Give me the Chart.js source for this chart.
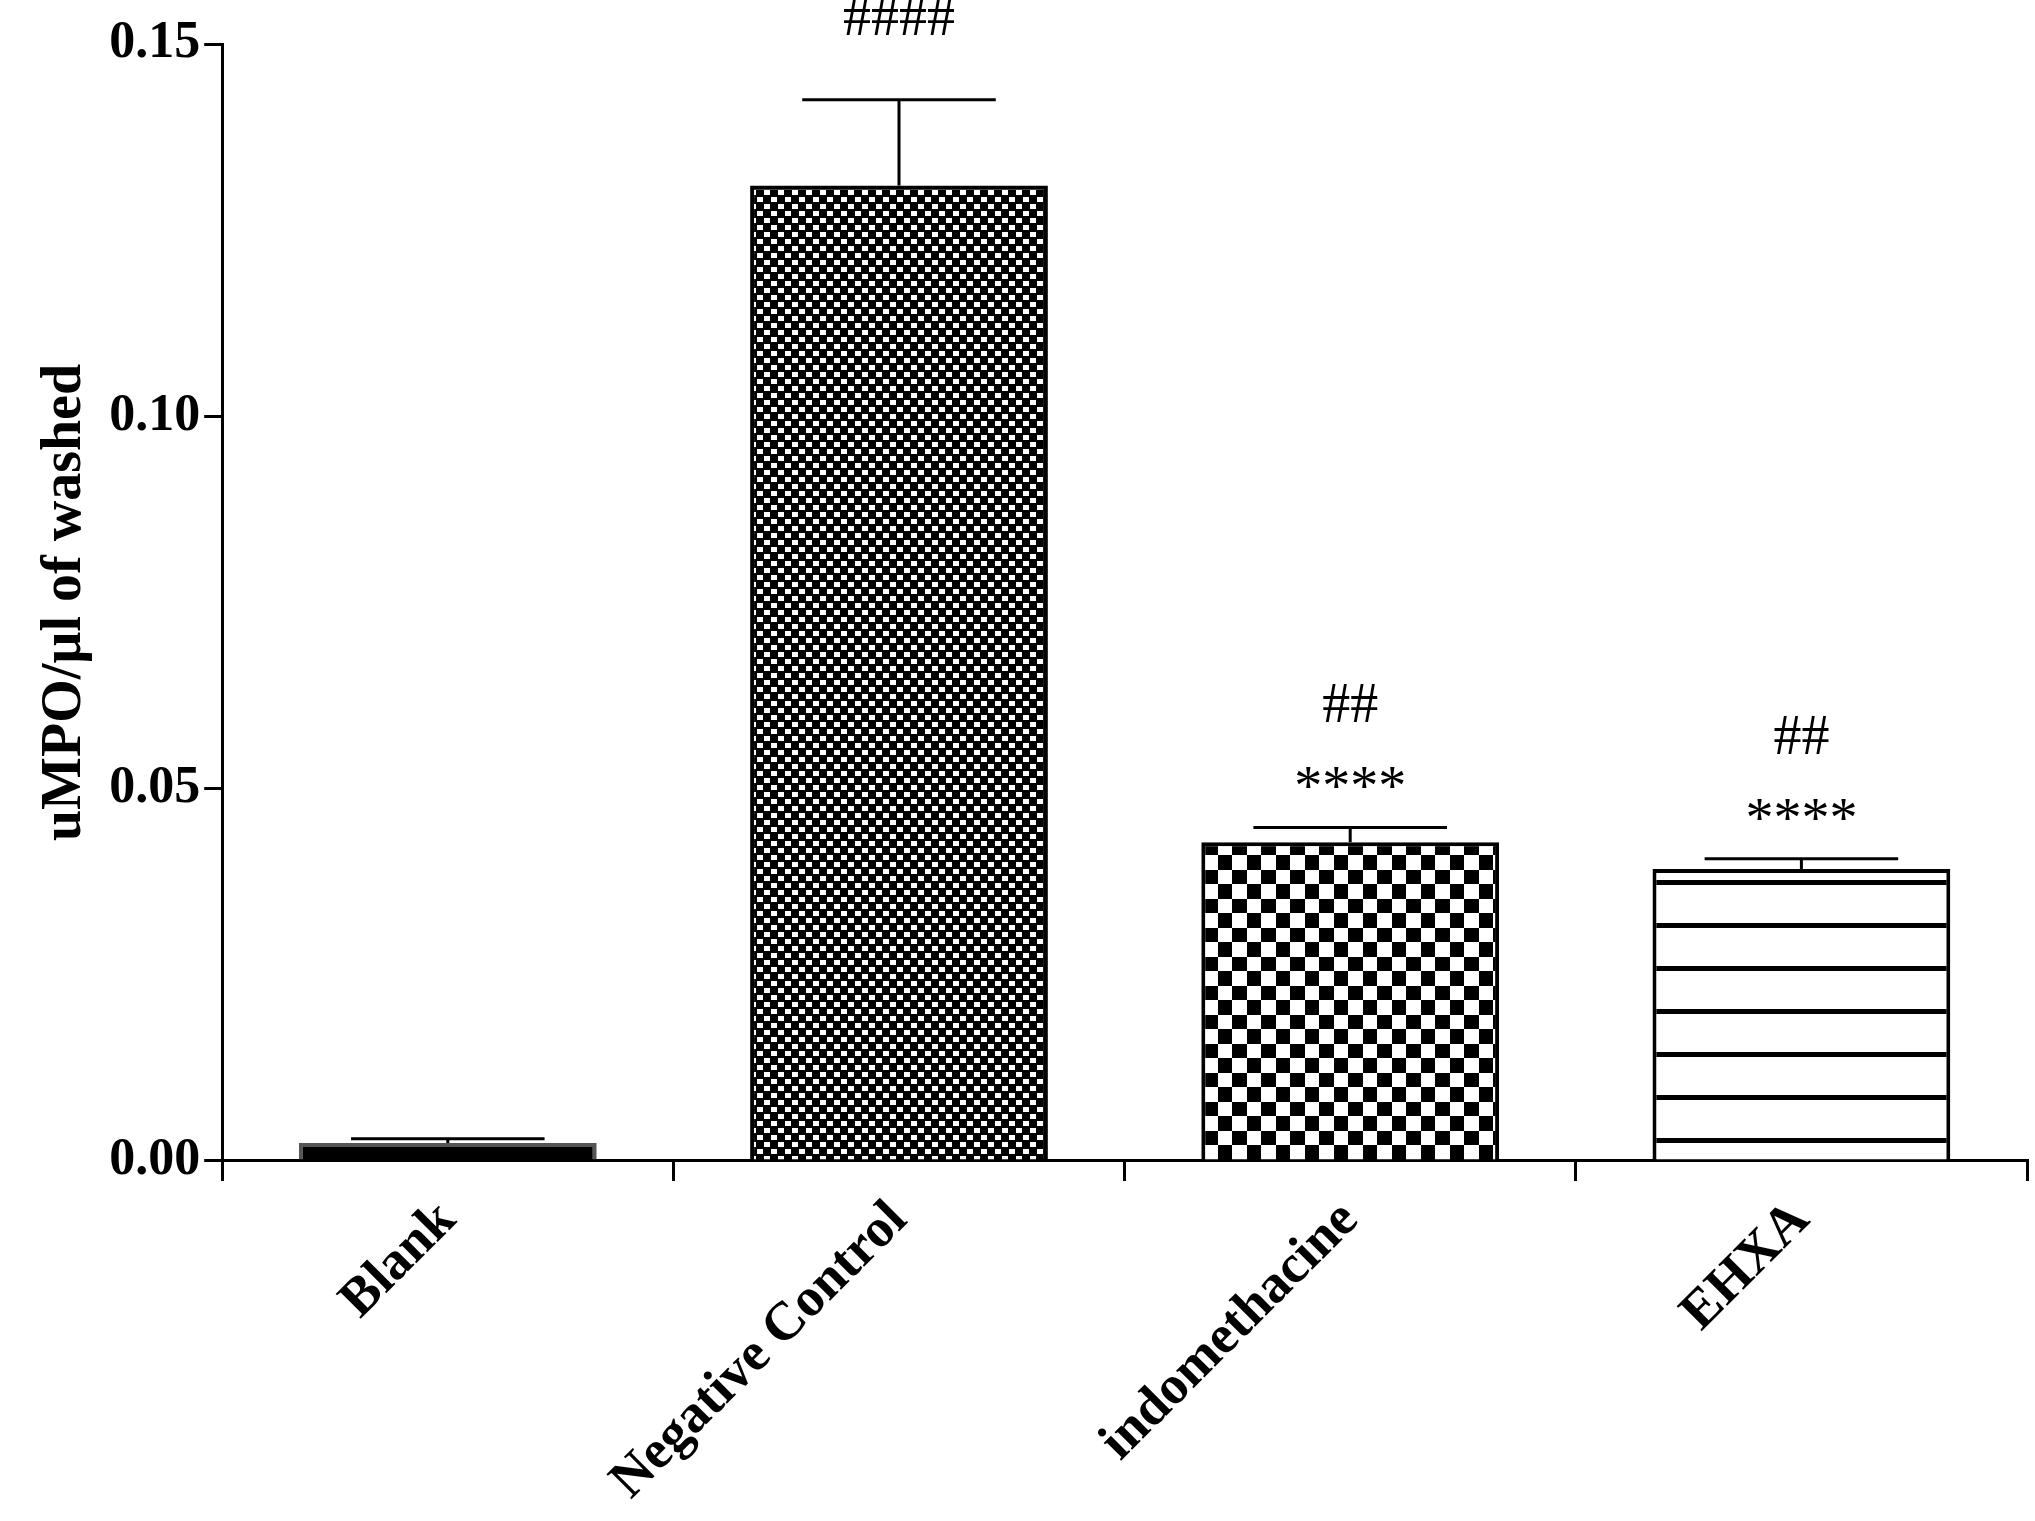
<!DOCTYPE html>
<html>
<head>
<meta charset="utf-8">
<script src="https://cdn.jsdelivr.net/npm/chart.js@4"></script>
<style>
  html, body { margin: 0; padding: 0; background: #fff; }
  #wrap { width: 2035px; height: 1521px; }
</style>
</head>
<body>
<div id="wrap"><canvas id="mpoChart"></canvas></div>
<script>
const groups = ["Blank", "Negative Control", "indomethacine", "EHXA"];
const means = [0.0024, 0.131, 0.0428, 0.0392];
const sems = [0.0006, 0.0115, 0.002, 0.0014];
const hashMarks = ["", "####", "##", "##"];
const starMarks = ["", "", "****", "****"];
const yTicks = [0, 0.05, 0.10, 0.15];

const FONT = "'Liberation Serif', 'Times New Roman', serif";

// fill patterns
function makePattern(size, draw) {
  const c = document.createElement("canvas");
  c.width = size; c.height = size;
  const g = c.getContext("2d");
  draw(g, size);
  return g.createPattern(c, "repeat");
}
const ctx = document.getElementById("mpoChart").getContext("2d");
const fineCheck = makePattern(14, (g, s) => {
  g.fillStyle = "#000"; g.fillRect(0, 0, s, s);
  g.fillStyle = "#fff"; g.fillRect(1, 1, 6, 5); g.fillRect(8, 8, 6, 5);
});
const coarseCheck = makePattern(29, (g, s) => {
  g.fillStyle = "#fff"; g.fillRect(0, 0, s, s);
  g.fillStyle = "#000"; g.fillRect(14, 0, 15, 14); g.fillRect(0, 14, 14, 15);
});
const hLines = makePattern(43, (g, s) => {
  g.fillStyle = "#fff"; g.fillRect(0, 0, s, s);
  g.fillStyle = "#000"; g.fillRect(0, 20, s, 5);
});

const errorBars = {
  id: "errorBars",
  afterDatasetsDraw(chart) {
    const g = chart.ctx, y = chart.scales.y;
    const meta = chart.getDatasetMeta(0);
    g.save();
    g.strokeStyle = "#000"; g.lineWidth = 3;
    meta.data.forEach((bar, i) => {
      const top = y.getPixelForValue(means[i] + sems[i]);
      const base = y.getPixelForValue(means[i]);
      const half = bar.width * 0.325;
      g.beginPath();
      g.moveTo(bar.x, base); g.lineTo(bar.x, top);
      g.moveTo(bar.x - half, top); g.lineTo(bar.x + half, top);
      g.stroke();
      g.fillStyle = "#000"; g.textAlign = "center"; g.textBaseline = "alphabetic";
      g.font = "56px " + FONT;
      if (starMarks[i]) g.fillText(starMarks[i], bar.x, top - 22);
      if (hashMarks[i]) g.fillText(hashMarks[i], bar.x, top - (starMarks[i] ? 105 : 65));
    });
    g.restore();
  }
};

new Chart(ctx, {
  type: "bar",
  data: {
    labels: groups,
    datasets: [{
      data: means,
      backgroundColor: ["#000", fineCheck, coarseCheck, hLines],
      borderColor: ["#555", "#000", "#000", "#000"],
      borderWidth: 4,
      borderSkipped: "bottom",
      categoryPercentage: 1,
      barPercentage: 0.66
    }]
  },
  options: {
    responsive: true,
    maintainAspectRatio: false,
    animation: false,
    layout: { padding: { left: 26, right: 8, top: 44, bottom: 0 } },
    plugins: { legend: { display: false }, tooltip: { enabled: false } },
    scales: {
      x: {
        grid: { display: true, drawOnChartArea: false, drawTicks: true, tickLength: 20, color: "#000", lineWidth: 3 },
        border: { color: "#000", width: 3 },
        ticks: { color: "#000", maxRotation: 45, minRotation: 45, padding: 8,
          font: { family: FONT, size: 54, weight: "bold" } }
      },
      y: {
        min: 0, max: 0.15,
        afterBuildTicks: axis => { axis.ticks = yTicks.map(v => ({ value: v })); },
        grid: { display: true, drawOnChartArea: false, drawTicks: true, tickLength: 18, color: "#000", lineWidth: 3 },
        border: { color: "#000", width: 3 },
        ticks: { color: "#000", padding: 4, callback: v => v.toFixed(2),
          font: { family: FONT, size: 52, weight: "bold" } },
        title: { display: true, text: "uMPO/µl of washed", color: "#000", padding: 6,
          font: { family: FONT, size: 56, weight: "bold" } }
      }
    }
  },
  plugins: [errorBars]
});
</script>
</body>
</html>
